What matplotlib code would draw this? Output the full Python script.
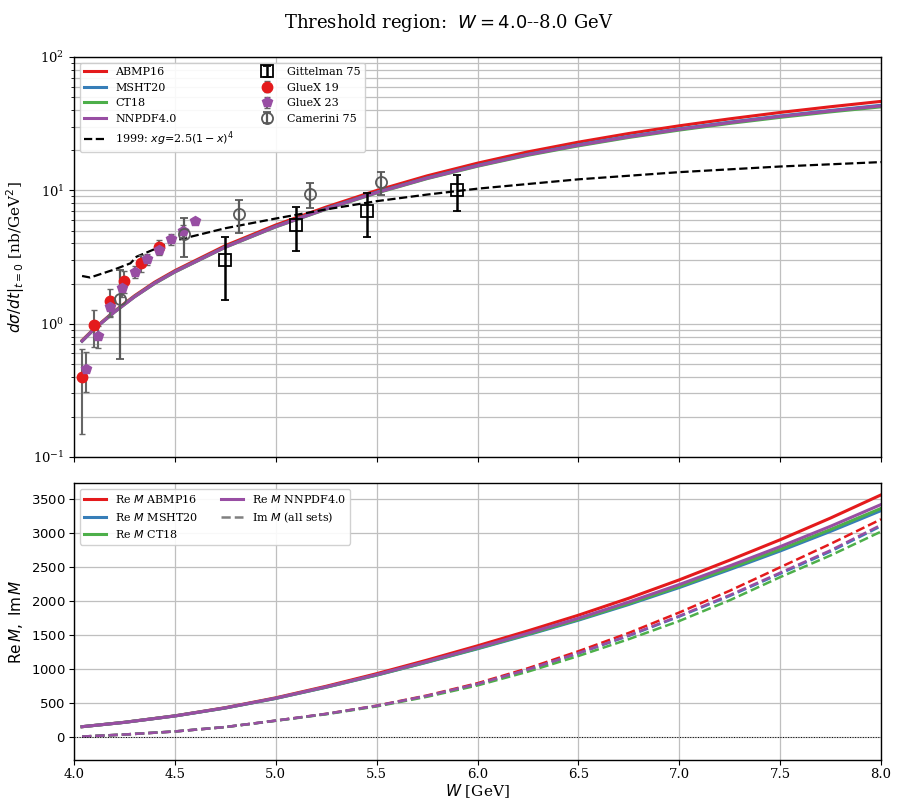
import matplotlib
matplotlib.use('Agg')
import matplotlib.pyplot as plt
from matplotlib.lines import Line2D
from matplotlib.ticker import FuncFormatter

plt.rcParams['font.family'] = 'serif'
plt.rcParams['font.serif'] = ['DejaVu Serif']
plt.rcParams['mathtext.fontset'] = 'dejavusans'

# ---- top panel: dsigma/dt at t=0 ----
W_top = [4.04, 4.1, 4.2, 4.3, 4.4, 4.5, 4.75, 5.0, 5.25, 5.5, 5.75, 6.0, 6.25, 6.5, 6.75, 7.0, 7.25, 7.5, 7.75, 8.0]
abmp16 = [0.75, 0.92, 1.24, 1.62, 2.05, 2.5, 3.85, 5.5, 7.5, 9.98, 12.85, 16.0, 19.45, 23.0, 26.7, 30.5, 34.4, 38.4, 42.4, 46.5]
msht20 = [0.74, 0.91, 1.23, 1.60, 2.02, 2.46, 3.77, 5.37, 7.30, 9.68, 12.41, 15.41, 18.65, 21.99, 25.42, 28.94, 32.51, 36.17, 39.77, 43.48]
ct18 = [0.74, 0.91, 1.22, 1.59, 2.00, 2.44, 3.74, 5.32, 7.22, 9.55, 12.25, 15.17, 18.34, 21.57, 24.94, 28.33, 31.79, 35.29, 38.80, 42.32]
nnpdf40 = [0.74, 0.91, 1.22, 1.59, 2.01, 2.45, 3.75, 5.34, 7.25, 9.61, 12.32, 15.28, 18.52, 21.80, 25.20, 28.67, 32.20, 35.83, 39.39, 43.01]

W_1999 = [4.04, 4.08, 4.2, 4.28, 4.31, 4.5, 4.75, 5.0, 5.25, 5.5, 5.75, 6.0, 6.5, 7.0, 7.5, 8.0]
xg_1999 = [2.28, 2.22, 2.55, 2.84, 3.18, 4.2, 5.2, 6.15, 7.2, 8.3, 9.3, 10.3, 12.1, 13.7, 15.1, 16.3]

gitt_W = [4.75, 5.1, 5.45, 5.9]
gitt_s = [3.0, 5.5, 7.0, 10.0]
gitt_err = [1.5, 2.0, 2.5, 3.0]

gx19_W = [4.04, 4.10, 4.18, 4.25, 4.33, 4.42]
gx19_s = [0.40, 0.97, 1.48, 2.10, 2.85, 3.78]
gx19_err = [0.25, 0.30, 0.35, 0.40, 0.40, 0.45]

gx23_W = [4.06, 4.12, 4.18, 4.24, 4.30, 4.36, 4.42, 4.48, 4.54, 4.60]
gx23_s = [0.46, 0.81, 1.34, 1.84, 2.45, 3.06, 3.60, 4.30, 5.00, 5.90]
gx23_err = [0.15, 0.15, 0.20, 0.25, 0.25, 0.30, 0.35, 0.40, 0.50, 0.30]

cam_W = [4.23, 4.545, 4.82, 5.17, 5.52]
cam_s = [1.54, 4.7, 6.6, 9.4, 11.5]
cam_err = [1.0, 1.55, 1.85, 2.0, 2.3]

# ---- bottom panel: Re M, Im M ----
W_bot = [4.04, 4.25, 4.5, 4.75, 5.0, 5.25, 5.5, 5.75, 6.0, 6.25, 6.5, 6.75, 7.0, 7.25, 7.5, 7.75, 8.0]
re_abmp16 = [150, 215, 310, 430, 575, 745, 930, 1130, 1340, 1560, 1790, 2040, 2310, 2600, 2900, 3220, 3560]
re_msht20 = [150, 214, 308, 425, 566, 730, 908, 1098, 1296, 1502, 1717, 1948, 2197, 2462, 2735, 3024, 3329]
re_ct18 = [150, 214, 308, 425, 567, 732, 910, 1102, 1302, 1511, 1727, 1961, 2213, 2482, 2758, 3051, 3361]
re_nnpdf40 = [150, 214, 308, 427, 569, 736, 916, 1110, 1313, 1525, 1745, 1984, 2241, 2516, 2799, 3099, 3418]
im_abmp16 = [5, 35, 80, 145, 240, 340, 460, 610, 790, 1010, 1260, 1530, 1830, 2150, 2495, 2840, 3201]
im_msht20 = [5, 35, 80, 145, 239, 337, 455, 601, 775, 987, 1227, 1486, 1770, 2073, 2400, 2727, 3100]
im_ct18 = [5, 35, 80, 144, 237, 333, 448, 590, 757, 960, 1190, 1438, 1705, 2010, 2350, 2670, 3020]
im_nnpdf40 = [5, 35, 80, 145, 239, 338, 456, 603, 778, 991, 1233, 1494, 1780, 2086, 2415, 2745, 3118]

names = ['ABMP16', 'MSHT20', 'CT18', 'NNPDF4.0']
colors = ['#e41a1c', '#377eb8', '#4daf4a', '#984ea3']
top_curves = [abmp16, msht20, ct18, nnpdf40]
re_curves = [re_abmp16, re_msht20, re_ct18, re_nnpdf40]
im_curves = [im_abmp16, im_msht20, im_ct18, im_nnpdf40]

fig = plt.figure(figsize=(8.97, 7.99), dpi=100)
ax1 = fig.add_axes([0.0825, 0.428, 0.8997, 0.5006])
ax2 = fig.add_axes([0.0825, 0.0488, 0.8997, 0.3467])

handles = []
for name, c, y in zip(names, colors, top_curves):
    h, = ax1.plot(W_top, y, color=c, lw=2.2, label=name)
    handles.append(h)
h, = ax1.plot(W_1999, xg_1999, 'k--', lw=1.6, label=r'1999: $xg$=2.5$(1-x)^4$')
handles.append(h)

h = ax1.errorbar(gitt_W, gitt_s, yerr=gitt_err, fmt='s', mfc='none', mec='k', ecolor='k',
                 ms=9, mew=1.3, elinewidth=1.8, capsize=3, capthick=1.5, label='Gittelman 75', zorder=5)
handles.append(h)
h = ax1.errorbar(gx19_W, gx19_s, yerr=gx19_err, fmt='o', color='#e41a1c', ecolor='0.4',
                 ms=7.5, elinewidth=1.5, capsize=2.5, label='GlueX 19', zorder=4)
handles.append(h)
h = ax1.errorbar(gx23_W, gx23_s, yerr=gx23_err, fmt='p', color='#984ea3', ecolor='0.4',
                 ms=7.5, elinewidth=1.5, capsize=2.5, label='GlueX 23', zorder=4)
handles.append(h)
h = ax1.errorbar(cam_W, cam_s, yerr=cam_err, fmt='o', mfc='none', mec='0.35', ecolor='0.35',
                 ms=8, mew=1.3, elinewidth=1.6, capsize=3, capthick=1.3, label='Camerini 75', zorder=4)
handles.append(h)

ax1.set_yscale('log')
ax1.set_ylim(0.1, 100)
ax1.set_xlim(4.0, 8.0)
ax1.set_xticks([4.0, 4.5, 5.0, 5.5, 6.0, 6.5, 7.0, 7.5, 8.0])
ax1.tick_params(labelbottom=False, labelsize=9.5)
ax1.grid(True, which='both', color='0.75', lw=0.9)
ax1.set_ylabel(r'$d\sigma/dt|_{t=0}$ [nb/GeV$^2$]', fontsize=11)
ax1.legend(handles=handles, loc='upper left', ncol=2, fontsize=8, framealpha=0.9)

re_handles = []
for name, c, re, im in zip(names, colors, re_curves, im_curves):
    h, = ax2.plot(W_bot, re, color=c, lw=2.2, label=r'Re $M$ ' + name)
    re_handles.append(h)
    ax2.plot(W_bot, im, color=c, lw=1.8, ls='--')
re_handles.append(Line2D([], [], color='gray', lw=1.8, ls='--', label=r'Im $M$ (all sets)'))
ax2.axhline(0, color='k', lw=0.7, ls=':')

ax2.set_xlim(4.0, 8.0)
ax2.set_ylim(-340, 3735)
ax2.set_xticks([4.0, 4.5, 5.0, 5.5, 6.0, 6.5, 7.0, 7.5, 8.0])
ax2.set_yticks(range(0, 4000, 500))
ax2.yaxis.set_major_formatter(FuncFormatter(lambda v, p: '$%d$' % v))
ax2.tick_params(labelsize=9.5, pad=2.5)
ax2.grid(True, color='0.75', lw=0.9)
ax2.set_xlabel(r'$W$ [GeV]', fontsize=11, labelpad=1)
ax2.set_ylabel(r'$\mathrm{Re}\,M,\ \mathrm{Im}\,M$', fontsize=11)
ax2.legend(handles=re_handles, loc='upper left', ncol=2, fontsize=8, framealpha=0.9)

for ax in (ax1, ax2):
    for s in ax.spines.values():
        s.set_linewidth(1.0)

fig.suptitle('Threshold region:  $W = 4.0$--8.0 GeV', fontsize=13, y=0.985)
fig.savefig('out.png', dpi=100)
